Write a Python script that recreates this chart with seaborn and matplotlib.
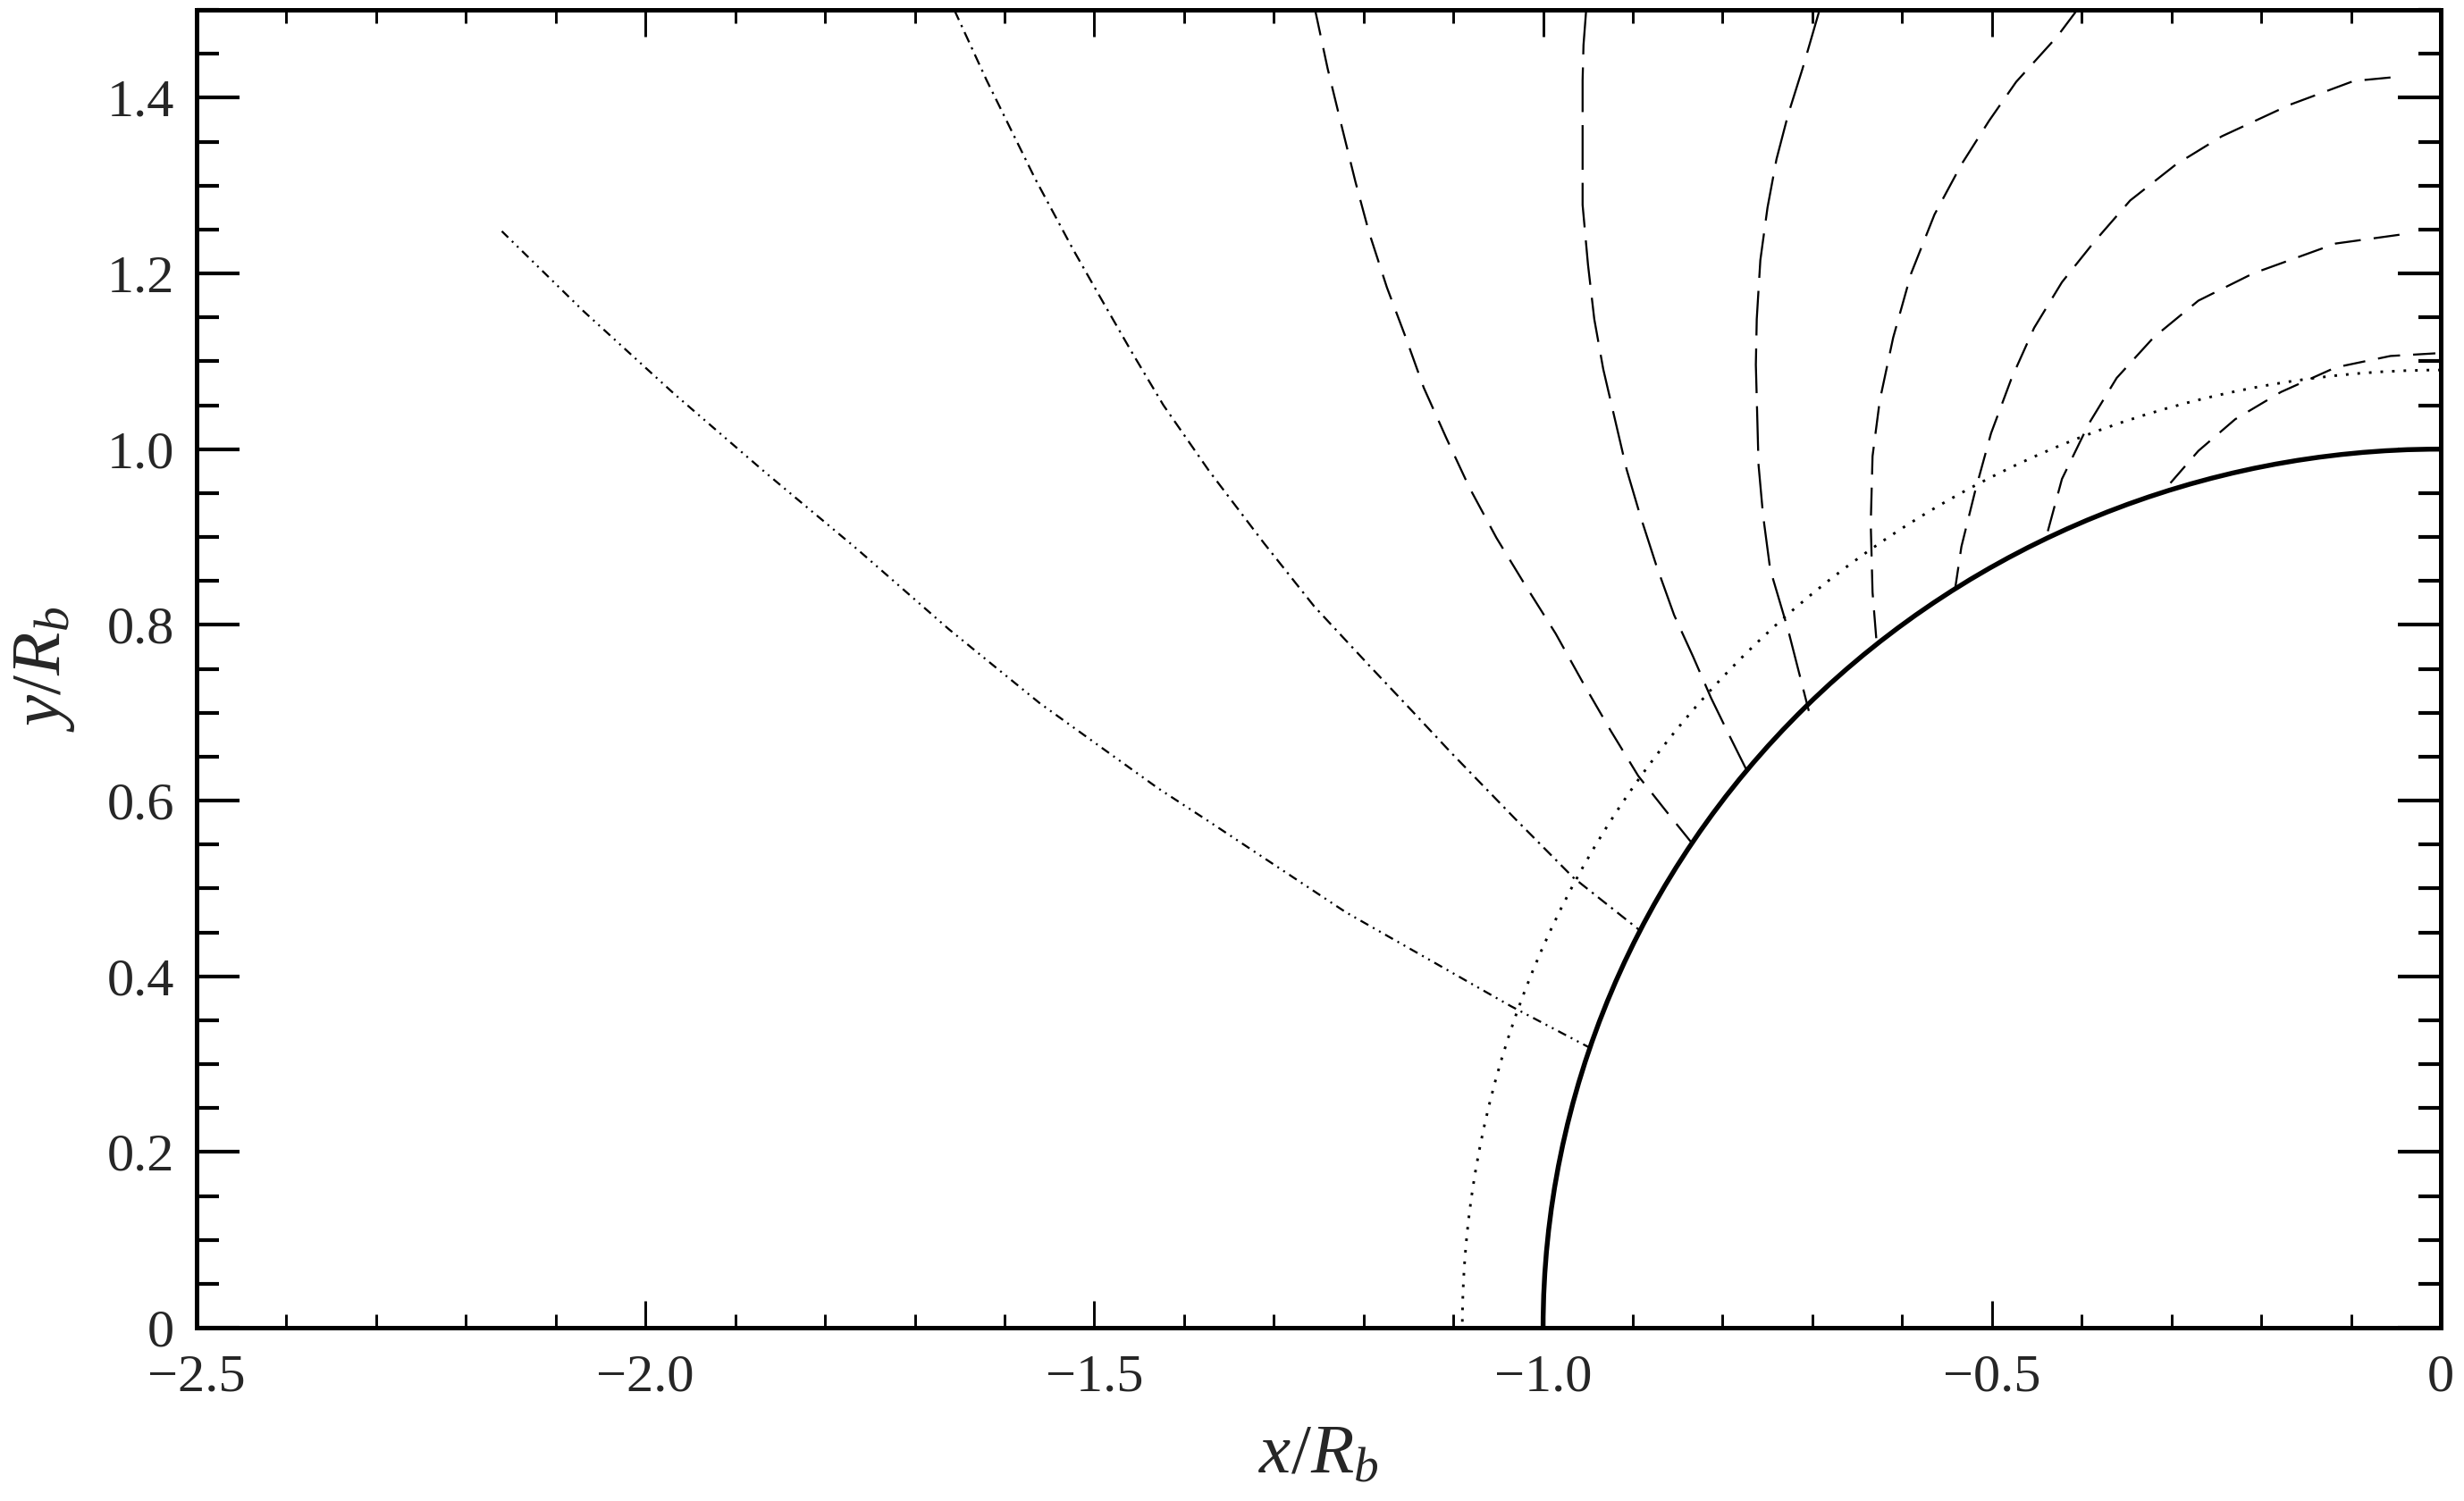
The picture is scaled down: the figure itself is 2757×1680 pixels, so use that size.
import numpy as np
import pandas as pd
import matplotlib
matplotlib.use("Agg")
import matplotlib.pyplot as plt
from matplotlib.patches import Arc
from matplotlib.ticker import MultipleLocator, FuncFormatter
import seaborn as sns

# ---------------- data ----------------
body_radius = 1.0          # solid quarter circle
dotted_radius = 1.09       # dotted quarter circle

curveA_x = [-2.160, -2.069, -1.967, -1.866, -1.764, -1.662, -1.561, -1.429, -1.372, -1.220, -1.036, -0.945]
curveA_y = [1.248, 1.157, 1.062, 0.973, 0.886, 0.795, 0.711, 0.614, 0.576, 0.473, 0.366, 0.317]

curveB_x = [-1.656, -1.620, -1.566, -1.524, -1.494, -1.458, -1.423, -1.372, -1.311, -1.255, -1.194, -1.146, -1.103, -1.030, -0.966, -0.892]
curveB_y = [1.500, 1.420, 1.308, 1.228, 1.174, 1.110, 1.050, 0.975, 0.893, 0.821, 0.754, 0.702, 0.655, 0.578, 0.512, 0.452]

curveC_x = [-1.254, -1.240, -1.224, -1.209, -1.194, -1.174, -1.153, -1.133, -1.108, -1.082, -1.052, -1.021, -0.986, -0.955, -0.925, -0.894, -0.863, -0.833]
curveC_y = [1.500, 1.433, 1.366, 1.304, 1.247, 1.184, 1.127, 1.070, 1.013, 0.956, 0.899, 0.847, 0.790, 0.733, 0.680, 0.628, 0.588, 0.550]

curveD_x = [-0.952, -0.955, -0.956, -0.956, -0.950, -0.943, -0.933, -0.920, -0.907, -0.892, -0.874, -0.854, -0.833, -0.813, -0.793, -0.773]
curveD_y = [1.500, 1.460, 1.420, 1.278, 1.210, 1.148, 1.091, 1.034, 0.977, 0.925, 0.868, 0.811, 0.764, 0.717, 0.675, 0.634]

curveE_x = [-0.692, -0.711, -0.727, -0.740, -0.750, -0.758, -0.762, -0.763, -0.760, -0.755, -0.747, -0.727, -0.704]
curveE_y = [1.500, 1.433, 1.381, 1.330, 1.275, 1.215, 1.148, 1.096, 0.982, 0.925, 0.863, 0.794, 0.702]

curveF_x = [-0.405, -0.427, -0.473, -0.503, -0.534, -0.564, -0.590, -0.610, -0.625, -0.633, -0.635, -0.633, -0.628]
curveF_y = [1.500, 1.470, 1.418, 1.374, 1.324, 1.267, 1.200, 1.127, 1.055, 0.992, 0.915, 0.837, 0.774]

curveG_x = [-0.056, -0.097, -0.168, -0.244, -0.295, -0.346, -0.386, -0.422, -0.453, -0.478, -0.501, -0.519, -0.534, -0.541]
curveG_y = [1.423, 1.419, 1.392, 1.356, 1.324, 1.283, 1.236, 1.190, 1.138, 1.081, 1.018, 0.951, 0.889, 0.841]

curveH_x = [-0.046, -0.117, -0.209, -0.270, -0.320, -0.361, -0.392, -0.422, -0.440]
curveH_y = [1.244, 1.234, 1.200, 1.169, 1.127, 1.081, 1.029, 0.966, 0.898]

curveI_x = [-0.006, -0.056, -0.117, -0.178, -0.229, -0.270, -0.310]
curveI_y = [1.109, 1.106, 1.093, 1.065, 1.034, 0.998, 0.951]

x_major_ticks = [-2.5, -2.0, -1.5, -1.0, -0.5, 0.0]
y_major_ticks = [0.0, 0.2, 0.4, 0.6, 0.8, 1.0, 1.2, 1.4]

# ---------------- style ----------------
sns.set_theme(style="white")
plt.rcParams["font.family"] = ["Liberation Serif", "DejaVu Serif"]
plt.rcParams["mathtext.fontset"] = "custom"
plt.rcParams["mathtext.rm"] = "Liberation Serif"
plt.rcParams["mathtext.it"] = "Liberation Serif:italic"
plt.rcParams["lines.scale_dashes"] = False
plt.rcParams["axes.unicode_minus"] = True

DPI = 300
fig = plt.figure(figsize=(2757 / DPI, 1680 / DPI), dpi=DPI)
ax = fig.add_axes([220 / 2757, 1 - 1486 / 1680, (2731 - 220) / 2757, (1486 - 11) / 1680])

curves = [
    (curveA_x, curveA_y, (0, (2.4, 1.4, 0.5, 1.4, 0.5, 1.4))),
    (curveB_x, curveB_y, (0, (3.0, 1.5, 0.6, 1.5))),
    (curveC_x, curveC_y, (0, (7.0, 3.5))),
    (curveD_x, curveD_y, (0, (12.0, 3.5))),
    (curveE_x, curveE_y, (0, (12.0, 3.5))),
    (curveF_x, curveF_y, (0, (7.5, 3.5))),
    (curveG_x, curveG_y, (0, (7.0, 3.5))),
    (curveH_x, curveH_y, (0, (7.0, 3.5))),
    (curveI_x, curveI_y, (0, (6.0, 3.5))),
]

for cx, cy, ls in curves:
    df = pd.DataFrame({"x": cx, "y": cy})
    sns.lineplot(data=df, x="x", y="y", sort=False, estimator=None,
                 color="black", linewidth=0.55, linestyle=ls, ax=ax)

# quarter circles (body and dotted)
ax.add_patch(Arc((0, 0), 2 * dotted_radius, 2 * dotted_radius, theta1=90, theta2=180,
                 color="black", linewidth=0.7, linestyle=(0, (0.7, 2.4))))
ax.add_patch(Arc((0, 0), 2 * body_radius, 2 * body_radius, theta1=90, theta2=180,
                 color="black", linewidth=1.3))

ax.set_xlim(-2.5, 0)
ax.set_ylim(0, 1.5)

def fmt(v, pos):
    if abs(v) < 1e-9:
        return "0"
    return ("%.1f" % v).replace("-", "\u2212")

ax.set_xticks(x_major_ticks)
ax.set_yticks(y_major_ticks)
ax.xaxis.set_minor_locator(MultipleLocator(0.1))
ax.yaxis.set_minor_locator(MultipleLocator(0.05))
ax.xaxis.set_major_formatter(FuncFormatter(fmt))
ax.yaxis.set_major_formatter(FuncFormatter(fmt))

ax.tick_params(axis="x", which="major", direction="in", top=True, bottom=True,
               length=7.2, width=0.7, labelsize=14.5, pad=7, color="black")
ax.tick_params(axis="x", which="minor", direction="in", top=True, bottom=True,
               length=3.6, width=0.7, color="black")
ax.tick_params(axis="y", which="major", direction="in", left=True, right=True,
               length=11.5, width=1.0, labelsize=14.5, pad=6, color="black")
ax.tick_params(axis="y", which="minor", direction="in", left=True, right=True,
               length=6.0, width=1.0, color="black")

for sp in ax.spines.values():
    sp.set_visible(True)
    sp.set_linewidth(1.2)
    sp.set_color("black")

ax.set_xlabel("$x/R_b$", fontsize=19, labelpad=6)
ax.set_ylabel("$y/R_b$", fontsize=19, labelpad=8)
ax.grid(False)

fig.savefig("out.png", dpi=DPI)
